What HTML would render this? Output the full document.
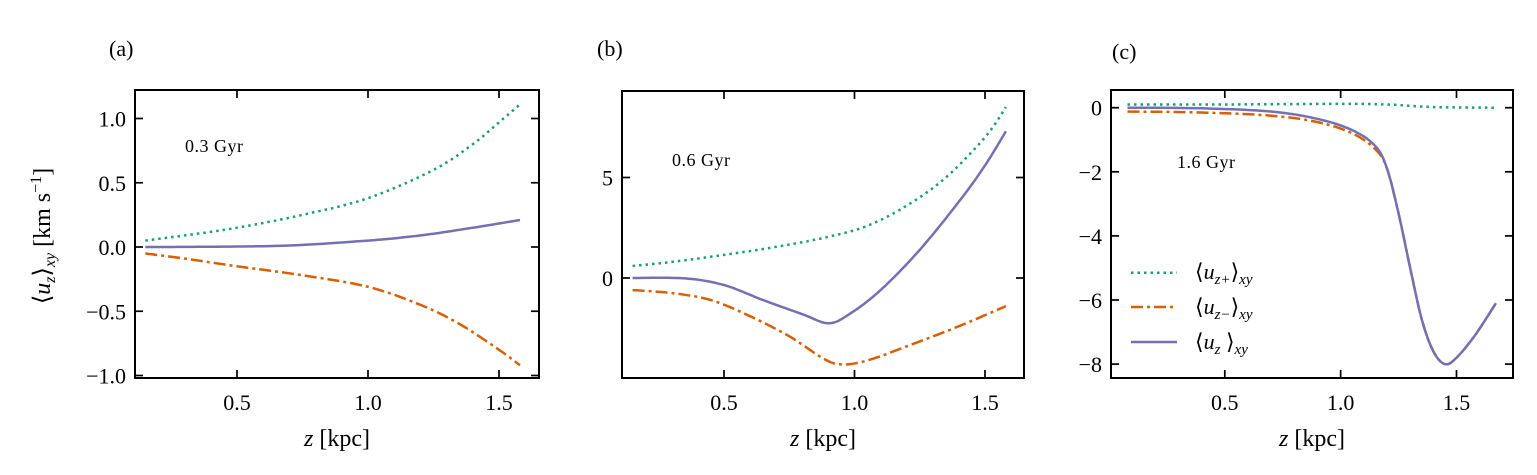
<!DOCTYPE html>
<html><head><meta charset="utf-8"><style>
html,body{margin:0;padding:0;background:#fff;}
svg{display:block;font-family:"Liberation Serif","DejaVu Serif",serif;}
</style></head><body>
<svg id="s" width="1537" height="475" viewBox="0 0 1537 475" xmlns="http://www.w3.org/2000/svg">
<g font-size="22" fill="#000">
<text x="109" y="56">(a)</text>
<text x="597" y="56">(b)</text>
<text x="1112" y="59">(c)</text>
<text x="185" y="152" font-size="18" letter-spacing="0.5">0.3 Gyr</text>
<text x="672" y="166" font-size="18" letter-spacing="0.5">0.6 Gyr</text>
<text x="1177" y="168" font-size="18" letter-spacing="0.5">1.6 Gyr</text>
<g text-anchor="middle" font-size="24">
<text x="337" y="446"><tspan font-style="italic">z</tspan> [kpc]</text>
<text x="823" y="446"><tspan font-style="italic">z</tspan> [kpc]</text>
<text x="1312" y="446"><tspan font-style="italic">z</tspan> [kpc]</text>
</g>
<text transform="translate(50,236) rotate(-90)" text-anchor="middle" font-size="24">⟨<tspan font-style="italic">u</tspan><tspan font-style="italic" font-size="16" dy="5">z</tspan><tspan dy="-5">⟩</tspan><tspan font-style="italic" font-size="16" dy="5">xy</tspan><tspan dy="-5"> [km s</tspan><tspan font-size="16" dy="-9">−1</tspan><tspan dy="9">]</tspan></text>
<g font-size="22">
<text x="1195" y="279">⟨<tspan font-style="italic">u</tspan><tspan font-style="italic" font-size="15" dy="5">z+</tspan><tspan dy="-5">⟩</tspan><tspan font-style="italic" font-size="15" dy="5">xy</tspan></text>
<text x="1195" y="314">⟨<tspan font-style="italic">u</tspan><tspan font-style="italic" font-size="15" dy="5">z−</tspan><tspan dy="-5">⟩</tspan><tspan font-style="italic" font-size="15" dy="5">xy</tspan></text>
<text x="1195" y="349">⟨<tspan font-style="italic">u</tspan><tspan font-style="italic" font-size="15" dy="5">z</tspan><tspan dy="-5"> ⟩</tspan><tspan font-style="italic" font-size="15" dy="5">xy</tspan></text>
</g>
</g>
<line x1="1131" y1="272.7" x2="1177" y2="272.7" stroke="#1b9e77" stroke-width="2.5" stroke-dasharray="2.5,4"/>
<line x1="1131" y1="307" x2="1177" y2="307" stroke="#d95f02" stroke-width="2.5" stroke-dasharray="12,4,3,4"/>
<line x1="1131" y1="342" x2="1177" y2="342" stroke="#7570b3" stroke-width="2.5"/>
<g id="g"></g>
</svg>
<script>
var NS="http://www.w3.org/2000/svg",G=document.getElementById('g');
function el(t,a,txt){var e=document.createElementNS(NS,t);for(var k in a)e.setAttribute(k,a[k]);if(txt!=null)e.textContent=txt;G.appendChild(e);return e;}
function cr(pts,n){var o=[];for(var i=0;i<pts.length-1;i++){var p0=pts[Math.max(i-1,0)],p1=pts[i],p2=pts[i+1],p3=pts[Math.min(i+2,pts.length-1)];
for(var j=0;j<n;j++){var t=j/n,t2=t*t,t3=t2*t;var f=function(a,b,c,d){return 0.5*((2*b)+(-a+c)*t+(2*a-5*b+4*c-d)*t2+(-a+3*b-3*c+d)*t3)};o.push([f(p0[0],p1[0],p2[0],p3[0]),f(p0[1],p1[1],p2[1],p3[1])]);}}
o.push(pts[pts.length-1]);return o;}
function panel(P){
 var X=function(v){return P.x0+(v-P.xr0)*P.sx},Y=function(v){return P.y0-(v-P.yr0)*P.sy};
 P.series.forEach(function(s){var pts=cr(s.d,12).map(function(p){return X(p[0]).toFixed(1)+","+Y(p[1]).toFixed(1)});
  var a={points:pts.join(" "),fill:"none",stroke:s.c,"stroke-width":2.5,"stroke-linejoin":"round"};if(s.da)a["stroke-dasharray"]=s.da;el("polyline",a);});
 el("rect",{x:P.L,y:P.T,width:P.R-P.L,height:P.B-P.T,fill:"none",stroke:"#000","stroke-width":2});
 P.xt.forEach(function(v){var x=X(v);el("line",{x1:x,y1:P.B,x2:x,y2:P.B-8,stroke:"#000","stroke-width":1.7});el("line",{x1:x,y1:P.T,x2:x,y2:P.T+8,stroke:"#000","stroke-width":1.7});
  el("text",{x:x,y:P.B+32,"text-anchor":"middle","font-size":22},v.toFixed(1));});
 P.yt.forEach(function(v){var y=Y(v);el("line",{x1:P.L,y1:y,x2:P.L+8,y2:y,stroke:"#000","stroke-width":1.7});el("line",{x1:P.R,y1:y,x2:P.R-8,y2:y,stroke:"#000","stroke-width":1.7});
  el("text",{x:P.L-9,y:y+8,"text-anchor":"end","font-size":22},(v<0?"−":"")+Math.abs(v).toFixed(P.yd));});
}
var GR="#1b9e77",OR="#d95f02",PU="#7570b3",DT="2.5,4",DD="12,4,3,4";
panel({L:135,R:539,T:90,B:378,x0:237,xr0:0.5,sx:262,y0:247,yr0:0,sy:128.5,xt:[0.5,1.0,1.5],yt:[1,0.5,0,-0.5,-1],yd:1,
series:[{c:GR,da:DT,d:[[0.15,0.05],[0.3,0.09],[0.5,0.15],[0.75,0.25],[1.0,0.38],[1.25,0.6],[1.4,0.8],[1.5,0.97],[1.58,1.11]]},
{c:OR,da:DD,d:[[0.15,-0.05],[0.3,-0.09],[0.5,-0.15],[0.75,-0.22],[1.0,-0.31],[1.2,-0.45],[1.35,-0.6],[1.5,-0.8],[1.58,-0.92]]},
{c:PU,d:[[0.15,0],[0.4,0.002],[0.7,0.012],[1.0,0.05],[1.2,0.09],[1.4,0.15],[1.58,0.21]]}]});
panel({L:622,R:1024,T:91,B:378,x0:724,xr0:0.5,sx:261,y0:278,yr0:0,sy:20.1,xt:[0.5,1.0,1.5],yt:[5,0],yd:0,
series:[{c:GR,da:DT,d:[[0.15,0.6],[0.3,0.8],[0.5,1.15],[0.7,1.55],[0.9,2.05],[1.05,2.6],[1.2,3.6],[1.35,5.0],[1.5,7.0],[1.58,8.5]]},
{c:OR,da:DD,d:[[0.15,-0.6],[0.3,-0.75],[0.45,-1.1],[0.6,-1.9],[0.75,-2.9],[0.88,-4.0],[0.95,-4.3],[1.05,-4.1],[1.2,-3.4],[1.4,-2.4],[1.58,-1.4]]},
{c:PU,d:[[0.15,0],[0.35,-0.02],[0.5,-0.35],[0.65,-1.1],[0.8,-1.8],[0.9,-2.25],[0.98,-1.8],[1.1,-0.6],[1.25,1.4],[1.4,3.8],[1.5,5.6],[1.58,7.3]]}]});
panel({L:1111,R:1513,T:90,B:378,x0:1224.8,xr0:0.5,sx:231.7,y0:107.7,yr0:0,sy:32.05,xt:[0.5,1.0,1.5],yt:[0,-2,-4,-6,-8],yd:0,
series:[{c:GR,da:DT,d:[[0.08,0.1],[0.5,0.1],[1.0,0.12],[1.2,0.1],[1.4,0.02],[1.67,0.0]]},
{c:OR,da:DD,d:[[0.08,-0.12],[0.4,-0.15],[0.7,-0.25],[0.9,-0.45],[1.05,-0.8],[1.15,-1.3],[1.2,-1.9],[1.25,-3.3],[1.3,-5.0],[1.35,-6.6],[1.4,-7.6],[1.45,-8.0],[1.5,-7.8],[1.58,-7.1],[1.67,-6.1]]},
{c:PU,d:[[0.08,0],[0.4,-0.02],[0.7,-0.12],[0.9,-0.35],[1.05,-0.7],[1.15,-1.2],[1.2,-1.9],[1.25,-3.3],[1.3,-5.0],[1.35,-6.6],[1.4,-7.6],[1.45,-8.0],[1.5,-7.8],[1.58,-7.1],[1.67,-6.1]]}]});
</script>
</body></html>
